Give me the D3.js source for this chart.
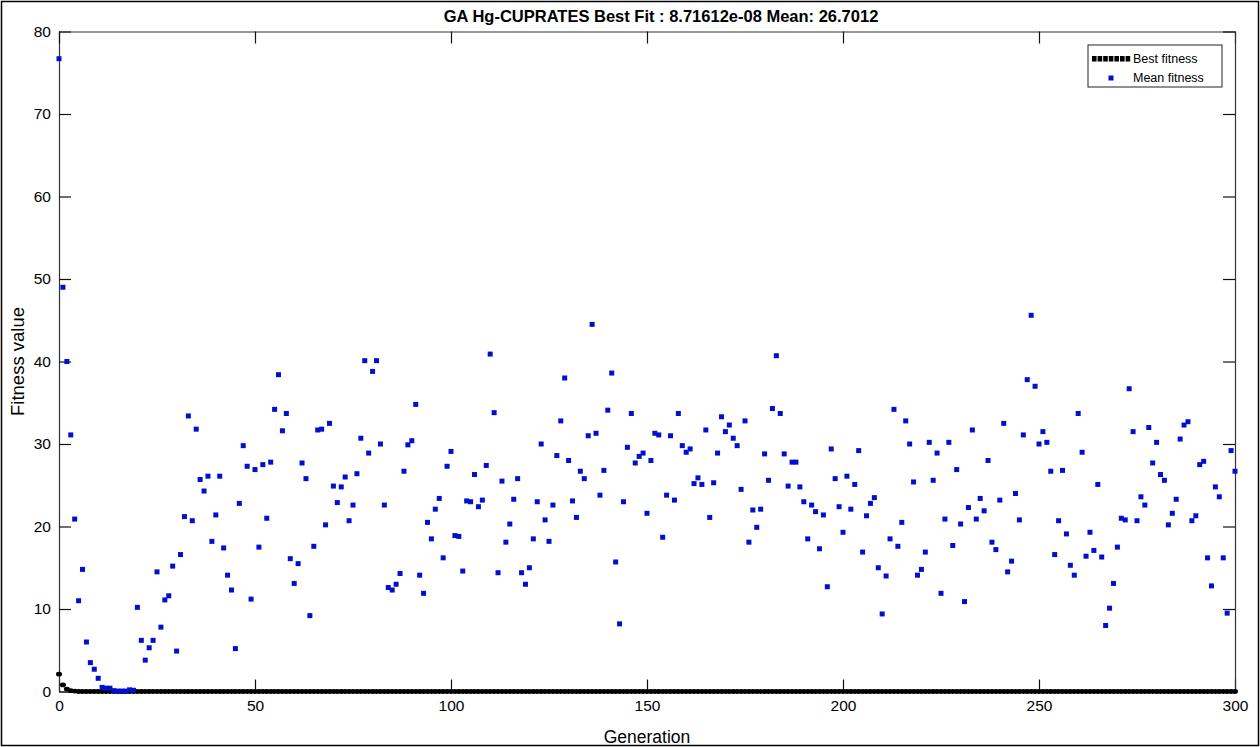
<!DOCTYPE html>
<html>
<head>
<meta charset="utf-8">
<script src="https://cdn.jsdelivr.net/npm/d3@7"></script>
<style>
  body { margin: 0; background: #fff; }
  svg { display: block; font-family: "Liberation Sans", Arial, sans-serif; }
</style>
</head>
<body>
<div id="chart"></div>
<script>
// GA fitness per generation

var titleText = "GA Hg-CUPRATES Best Fit : 8.71612e-08 Mean: 26.7012";
var xTicks = [0, 50, 100, 150, 200, 250, 300];
var yTicks = [0, 10, 20, 30, 40, 50, 60, 70, 80];
var legendLabels = ["Best fitness", "Mean fitness"];

// mean fitness, generation 0..300
var meanFitness = [
  76.7, 49.0, 40.0, 31.1, 20.9, 11.0, 14.8, 6.0, 3.5, 2.7,
  1.6, 0.5, 0.4, 0.4, 0.1, 0.05, 0.05, 0.05, 0.2, 0.15,
  10.2, 6.2, 3.8, 5.3, 6.2, 14.5, 7.8, 11.1, 11.6, 15.2,
  4.9, 16.6, 21.2, 33.4, 20.7, 31.8, 25.7, 24.3, 26.1, 18.2,
  21.4, 26.1, 17.4, 14.1, 12.3, 5.2, 22.8, 29.8, 27.3, 11.2,
  26.9, 17.5, 27.5, 21.0, 27.8, 34.2, 38.4, 31.6, 33.7, 16.1,
  13.1, 15.5, 27.7, 25.8, 9.2, 17.6, 31.7, 31.8, 20.2, 32.5,
  24.9, 22.9, 24.8, 26.0, 20.7, 22.6, 26.4, 30.7, 40.1, 28.9,
  38.8, 40.1, 30.0, 22.6, 12.6, 12.3, 13.0, 14.3, 26.7, 29.9,
  30.4, 34.8, 14.1, 11.9, 20.5, 18.5, 22.1, 23.4, 16.2, 27.3,
  29.1, 18.9, 18.8, 14.6, 23.1, 23.0, 26.3, 22.4, 23.2, 27.4,
  40.9, 33.8, 14.4, 25.5, 18.1, 20.3, 23.3, 25.8, 14.4, 13.0,
  15.0, 18.5, 23.0, 30.0, 20.8, 18.2, 22.6, 28.6, 32.8, 38.0,
  28.0, 23.1, 21.1, 26.7, 25.8, 31.0, 44.5, 31.3, 23.8, 26.8,
  34.1, 38.6, 15.7, 8.2, 23.0, 29.6, 33.7, 27.7, 28.5, 28.9,
  21.6, 28.0, 31.3, 31.1, 18.7, 23.8, 31.0, 23.2, 33.7, 29.8,
  29.0, 29.4, 25.2, 25.9, 25.1, 31.7, 21.1, 25.3, 28.9, 33.3,
  31.5, 32.3, 30.7, 29.8, 24.5, 32.8, 18.1, 22.0, 19.9, 22.1,
  28.8, 25.6, 34.3, 40.7, 33.7, 28.8, 24.9, 27.8, 27.8, 24.8,
  23.0, 18.5, 22.6, 21.8, 17.3, 21.4, 12.7, 29.4, 25.8, 22.4,
  19.3, 26.1, 22.1, 25.1, 29.2, 16.9, 21.3, 22.8, 23.5, 15.0,
  9.4, 14.0, 18.5, 34.2, 17.6, 20.5, 32.8, 30.0, 25.4, 14.1,
  14.8, 16.9, 30.2, 25.6, 28.9, 11.9, 20.9, 30.2, 17.7, 26.9,
  20.3, 10.9, 22.3, 31.7, 20.9, 23.4, 21.9, 28.0, 18.1, 17.2,
  23.2, 32.5, 14.5, 15.8, 24.0, 20.8, 31.1, 37.8, 45.6, 37.0,
  30.0, 31.5, 30.2, 26.7, 16.6, 20.7, 26.8, 19.1, 15.3, 14.1,
  33.7, 29.0, 16.4, 19.3, 17.1, 25.1, 16.3, 8.0, 10.1, 13.1,
  17.5, 21.0, 20.8, 36.7, 31.5, 20.7, 23.6, 22.6, 32.0, 27.7,
  30.2, 26.3, 25.6, 20.2, 21.6, 23.3, 30.6, 32.3, 32.7, 20.7,
  21.3, 27.5, 27.9, 16.2, 12.8, 24.8, 23.6, 16.2, 9.5, 29.2,
  26.7
];

// best fitness, generation 0..300 (drops to ~0 after a few generations)
var bestFitness = [
  2.1, 0.8, 0.3, 0.1, 0.05, 0, 0, 0, 0, 0, 0, 0, 0, 0, 0, 0, 0, 0, 0, 0,
  0, 0, 0, 0, 0, 0, 0, 0, 0, 0, 0, 0, 0, 0, 0, 0, 0, 0, 0, 0,
  0, 0, 0, 0, 0, 0, 0, 0, 0, 0, 0, 0, 0, 0, 0, 0, 0, 0, 0, 0,
  0, 0, 0, 0, 0, 0, 0, 0, 0, 0, 0, 0, 0, 0, 0, 0, 0, 0, 0, 0,
  0, 0, 0, 0, 0, 0, 0, 0, 0, 0, 0, 0, 0, 0, 0, 0, 0, 0, 0, 0,
  0, 0, 0, 0, 0, 0, 0, 0, 0, 0, 0, 0, 0, 0, 0, 0, 0, 0, 0, 0,
  0, 0, 0, 0, 0, 0, 0, 0, 0, 0, 0, 0, 0, 0, 0, 0, 0, 0, 0, 0,
  0, 0, 0, 0, 0, 0, 0, 0, 0, 0, 0, 0, 0, 0, 0, 0, 0, 0, 0, 0,
  0, 0, 0, 0, 0, 0, 0, 0, 0, 0, 0, 0, 0, 0, 0, 0, 0, 0, 0, 0,
  0, 0, 0, 0, 0, 0, 0, 0, 0, 0, 0, 0, 0, 0, 0, 0, 0, 0, 0, 0,
  0, 0, 0, 0, 0, 0, 0, 0, 0, 0, 0, 0, 0, 0, 0, 0, 0, 0, 0, 0,
  0, 0, 0, 0, 0, 0, 0, 0, 0, 0, 0, 0, 0, 0, 0, 0, 0, 0, 0, 0,
  0, 0, 0, 0, 0, 0, 0, 0, 0, 0, 0, 0, 0, 0, 0, 0, 0, 0, 0, 0,
  0, 0, 0, 0, 0, 0, 0, 0, 0, 0, 0, 0, 0, 0, 0, 0, 0, 0, 0, 0,
  0, 0, 0, 0, 0, 0, 0, 0, 0, 0, 0, 0, 0, 0, 0, 0, 0, 0, 0, 0,
  0
];

var width = 1260, height = 747;
var margin = {left: 59, right: 25, top: 31.5, bottom: 55.5};

var svg = d3.select("#chart").append("svg")
    .attr("width", width)
    .attr("height", height);

// outer frame of the figure
svg.append("rect")
    .attr("x", 1.5).attr("y", 1.5)
    .attr("width", width - 3).attr("height", height - 3)
    .attr("fill", "none").attr("stroke", "#000").attr("stroke-width", 1.5);

var x = d3.scaleLinear().domain([0, 300]).range([margin.left, width - margin.right]);
var y = d3.scaleLinear().domain([0, 80]).range([height - margin.bottom, margin.top]);

var tickLen = 12;

// axes with inward ticks (matlab style), plus the mirrored ticks on top / right
var xAxis = d3.axisBottom(x).tickValues(xTicks).tickSizeInner(-tickLen).tickSizeOuter(0).tickPadding(8);
var yAxis = d3.axisLeft(y).tickValues(yTicks).tickSizeInner(-tickLen).tickSizeOuter(0).tickPadding(8);

var gx = svg.append("g")
    .attr("transform", "translate(0," + y(0) + ")")
    .call(xAxis);
var gy = svg.append("g")
    .attr("transform", "translate(" + x(0) + ",0)")
    .call(yAxis);

svg.append("g")
    .attr("transform", "translate(0," + y(80) + ")")
    .call(d3.axisTop(x).tickValues(xTicks).tickSizeInner(-tickLen).tickSizeOuter(0).tickFormat(""));
svg.append("g")
    .attr("transform", "translate(" + x(300) + ",0)")
    .call(d3.axisRight(y).tickValues(yTicks).tickSizeInner(-tickLen).tickSizeOuter(0).tickFormat(""));

svg.selectAll(".domain").attr("stroke", "#333").attr("stroke-width", 1.2);
svg.selectAll(".tick line").attr("stroke", "#111").attr("stroke-width", 1.2);
svg.selectAll(".tick text").attr("font-size", 15.5).attr("fill", "#000")
    .attr("font-family", "Liberation Sans, Arial, sans-serif");

// title and axis labels
svg.append("text")
    .attr("x", 661).attr("y", 22)
    .attr("text-anchor", "middle")
    .attr("font-size", 16.5).attr("font-weight", "bold")
    .text(titleText);

svg.append("text")
    .attr("x", (x(0) + x(300)) / 2).attr("y", 743)
    .attr("text-anchor", "middle")
    .attr("font-size", 17.5)
    .text("Generation");

svg.append("text")
    .attr("transform", "translate(24," + y(40) + ") rotate(-90)")
    .attr("text-anchor", "middle")
    .attr("font-size", 18.5)
    .text("Fitness value");

var gens = d3.range(meanFitness.length);

// best fitness markers (black dots)
svg.append("g").selectAll("ellipse")
    .data(gens)
    .enter()
    .append("ellipse")
    .attr("cx", function(d) { return x(d); })
    .attr("cy", function(d) { return y(bestFitness[d]); })
    .attr("rx", 3).attr("ry", 2.4)
    .attr("fill", "#000");

// mean fitness markers (blue squares)
var sq = 5;
svg.append("g").selectAll("rect")
    .data(gens)
    .enter()
    .append("rect")
    .attr("x", function(d) { return x(d) - sq / 2; })
    .attr("y", function(d) { return y(meanFitness[d]) - sq / 2; })
    .attr("width", sq).attr("height", sq)
    .attr("fill", "#0010cc");

// legend
var lg = svg.append("g").attr("transform", "translate(1088,45)");
lg.append("rect")
    .attr("width", 134).attr("height", 42)
    .attr("fill", "#fff").attr("stroke", "#222").attr("stroke-width", 1);

var legendDots = d3.range(7);
lg.append("g").selectAll("rect")
    .data(legendDots)
    .enter()
    .append("rect")
    .attr("x", function(d) { return 4 + d * 5.6; })
    .attr("y", 11)
    .attr("width", 4.6).attr("height", 5.5)
    .attr("fill", "#000");

lg.append("rect")
    .attr("x", 20.5).attr("y", 30.5)
    .attr("width", sq).attr("height", sq)
    .attr("fill", "#0010cc");

lg.selectAll("text.lbl")
    .data(legendLabels)
    .enter()
    .append("text")
    .attr("class", "lbl")
    .attr("x", 45)
    .attr("y", function(d, i) { return 18 + i * 19; })
    .attr("font-family", "'Liberation Sans Narrow', 'Liberation Sans', sans-serif")
    .attr("font-size", 12.5)
    .text(function(d) { return d; });
</script>
</body>
</html>
